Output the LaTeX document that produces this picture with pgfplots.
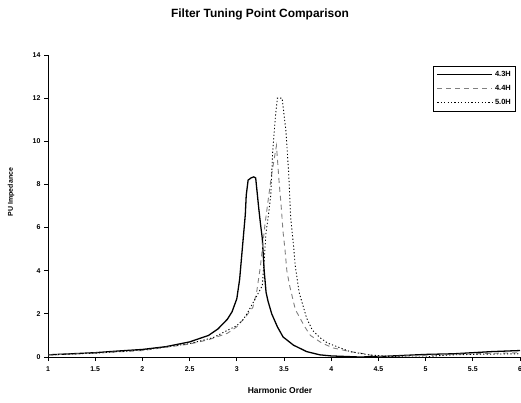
\documentclass[border=0pt]{standalone}
\usepackage{pgfplots}
\pgfplotsset{compat=1.18}
\usepackage{fontspec}
\setmainfont{Liberation Sans}
\begin{document}
\begin{tikzpicture}[x=1bp,y=1bp]
\path[use as bounding box] (0,0) rectangle (521,402);
\begin{axis}[
  at={(48bp,45bp)}, anchor=south west,
  width=472bp, height=302bp, scale only axis,
  xmin=1, xmax=6, ymin=0, ymax=14,
  axis x line=bottom, axis y line=left,
  axis line style={-, line width=1pt},
  xtick={1,1.5,...,6}, ytick={0,2,...,14},
  tick align=outside, tick style={black, line width=0.8pt},
  major tick length=4bp,
  tick label style={font=\bfseries\fontsize{7}{8}\selectfont},
  /pgf/number format/assume math mode=true,
  xticklabel style={yshift=-2bp},
  legend style={at={(0.992,0.964)}, anchor=north east, draw=black, line width=0.8pt,
    font=\bfseries\fontsize{7.5}{9}\selectfont, row sep=3.5bp, inner sep=3pt},
  legend cell align=left,
  legend image code/.code={\draw[#1] (0bp,0bp) -- (55bp,0bp);},
  clip=true,
]
\addplot[black, line width=1.3pt] coordinates {
(1.0,0.1) (1.25,0.15) (1.5,0.2) (1.75,0.28) (2.0,0.35) (2.25,0.48) (2.5,0.7) (2.6,0.85) (2.7,1.0) (2.8,1.3) (2.9,1.75) (2.95,2.1) (3.0,2.7) (3.03,3.6) (3.05,4.6) (3.07,5.6) (3.09,6.6) (3.1,7.5) (3.12,8.2) (3.15,8.3) (3.18,8.35) (3.2,8.3) (3.23,7.0) (3.25,6.2) (3.27,5.5) (3.29,4.0) (3.31,3.0) (3.33,2.6) (3.37,2.0) (3.43,1.4) (3.49,0.93) (3.6,0.55) (3.74,0.25) (3.88,0.1) (4.0,0.05) (4.3,0.0) (4.5,0.02) (4.8,0.08) (5.0,0.12) (5.3,0.15) (5.7,0.25) (6.0,0.3)
};
\addlegendentry{4.3H}
\addplot[gray, line width=0.9pt, dash pattern=on 5bp off 4bp] coordinates {
(1.0,0.1) (1.5,0.18) (2.0,0.3) (2.5,0.6) (2.7,0.8) (2.9,1.1) (3.0,1.4) (3.1,1.9) (3.17,2.3) (3.21,3.0) (3.25,4.2) (3.27,5.0) (3.3,6.2) (3.33,7.2) (3.37,8.5) (3.42,9.8) (3.45,8.0) (3.47,7.0) (3.49,5.8) (3.51,5.0) (3.53,4.0) (3.56,3.3) (3.62,2.2) (3.72,1.4) (3.78,1.0) (3.9,0.65) (4.02,0.42) (4.2,0.25) (4.35,0.15) (4.45,0.05) (4.6,0.02) (4.8,0.05) (5.0,0.08) (5.5,0.15) (6.0,0.2)
};
\addlegendentry{4.4H}
\addplot[black, line width=0.9pt, dash pattern=on 1.2bp off 2.2bp] coordinates {
(1.0,0.1) (1.5,0.18) (2.0,0.32) (2.5,0.62) (2.75,0.9) (2.93,1.3) (3.0,1.45) (3.07,1.75) (3.12,2.1) (3.17,2.5) (3.22,2.9) (3.27,3.3) (3.29,4.5) (3.31,5.8) (3.33,6.4) (3.36,7.5) (3.38,9.5) (3.41,11.2) (3.43,12.0) (3.48,12.0) (3.52,10.5) (3.55,8.5) (3.57,6.5) (3.6,5.2) (3.62,4.2) (3.66,3.0) (3.7,2.4) (3.74,1.8) (3.8,1.25) (3.88,0.9) (3.96,0.65) (4.05,0.5) (4.2,0.25) (4.4,0.1) (4.6,0.03) (4.8,0.0) (5.0,0.0) (5.1,0.05) (5.3,0.1) (5.6,0.13) (6.0,0.15)
};
\addlegendentry{5.0H}
\end{axis}
\node[font=\bfseries\fontsize{12}{14}\selectfont] at (260,388) {Filter Tuning Point Comparison};
\node[font=\bfseries\fontsize{7}{9}\selectfont, rotate=90] at (11,210) {PU Impedance};
\node[font=\bfseries\fontsize{8.5}{10}\selectfont] at (280,12) {Harmonic Order};
\end{tikzpicture}
\end{document}
